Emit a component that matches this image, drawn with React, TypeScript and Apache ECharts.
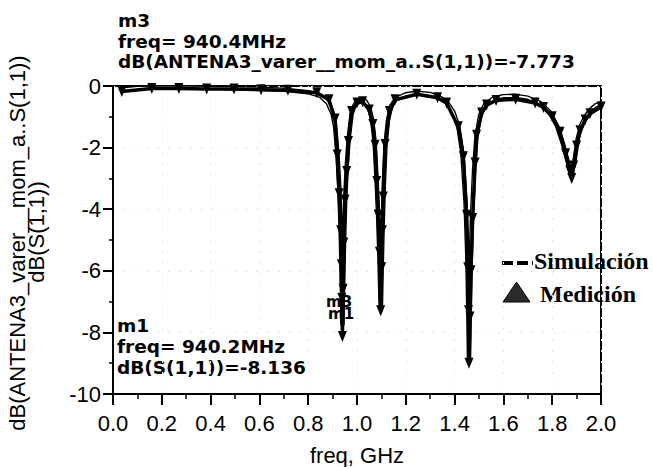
import React, { useEffect, useRef } from "react";
import * as echarts from "echarts";

const xTicks = [0, 2, 0.2];
const yTicks = [-10, 0, 2];

const simulacion: number[][] = [
  [0.03, -0.12], [0.1, -0.06], [0.2, -0.05], [0.3, -0.05], [0.4, -0.06], [0.5, -0.07],
  [0.6, -0.09], [0.7, -0.12], [0.8, -0.2], [0.85, -0.32], [0.88, -0.55], [0.9, -0.9],
  [0.91, -1.3], [0.92, -2.2], [0.928, -3.4], [0.934, -5.0], [0.938, -6.6], [0.9404, -7.773],
  [0.943, -6.6], [0.947, -5.0], [0.952, -3.6], [0.958, -2.6], [0.966, -1.7], [0.978, -0.9],
  [0.99, -0.62], [1.005, -0.48], [1.02, -0.45], [1.035, -0.5], [1.05, -0.7], [1.062, -1.1],
  [1.072, -1.8], [1.08, -3.0], [1.087, -4.3], [1.092, -5.6], [1.096, -6.9], [1.098, -7.2],
  [1.101, -6.0], [1.105, -4.6], [1.11, -3.2], [1.117, -1.9], [1.127, -1.1], [1.14, -0.65],
  [1.16, -0.42], [1.2, -0.27], [1.245, -0.22], [1.3, -0.26], [1.34, -0.38], [1.37, -0.55],
  [1.395, -0.85], [1.415, -1.3], [1.432, -2.2], [1.445, -3.8], [1.452, -5.5], [1.456, -7.2],
  [1.459, -8.9], [1.462, -7.4], [1.466, -5.7], [1.472, -4.1], [1.48, -2.7], [1.49, -1.6],
  [1.505, -0.95], [1.525, -0.6], [1.56, -0.4], [1.6, -0.33], [1.65, -0.32], [1.7, -0.38],
  [1.75, -0.55], [1.79, -0.85], [1.82, -1.3], [1.845, -1.9], [1.865, -2.5], [1.878, -2.9],
  [1.89, -2.5], [1.905, -1.7], [1.92, -1.25], [1.94, -0.95], [1.96, -0.75], [1.98, -0.62],
  [2.0, -0.55],
];

const medicion: number[][] = [
  [0.036, -0.18], [0.159, -0.08], [0.27, -0.08], [0.384, -0.1], [0.496, -0.1], [0.607, -0.12],
  [0.717, -0.14], [0.835, -0.22], [0.885, -0.45], [0.91, -1.07], [0.919, -2.24], [0.927, -3.5],
  [0.933, -4.7], [0.936, -5.8], [0.938, -6.9], [0.9402, -8.136], [0.943, -6.6], [0.946, -5.1],
  [0.951, -3.7], [0.958, -2.78], [0.965, -1.8], [0.978, -0.83], [1.0, -0.55], [1.023, -0.51],
  [1.05, -0.78], [1.065, -1.25], [1.074, -1.92], [1.081, -3.1], [1.087, -4.19], [1.092, -5.4],
  [1.097, -7.3], [1.101, -5.9], [1.104, -4.7], [1.108, -3.6], [1.115, -1.9], [1.133, -0.83],
  [1.156, -0.45], [1.245, -0.27], [1.33, -0.38], [1.367, -0.55], [1.415, -1.32], [1.436, -2.3],
  [1.449, -4.2], [1.454, -5.9], [1.457, -7.3], [1.459, -9.0], [1.463, -7.5], [1.467, -6.0],
  [1.474, -4.3], [1.484, -2.5], [1.49, -1.6], [1.511, -0.88], [1.531, -0.62], [1.57, -0.47],
  [1.65, -0.43], [1.73, -0.55], [1.764, -0.7], [1.8, -1.0], [1.832, -1.5], [1.855, -2.2],
  [1.872, -2.75], [1.88, -3.0], [1.888, -2.6], [1.9, -1.95], [1.914, -1.45], [1.935, -1.1],
  [1.955, -0.9], [2.0, -0.68],
];

const markerM3 = ["m3", "freq= 940.4MHz", "dB(ANTENA3_varer__mom_a..S(1,1))=-7.773"];
const markerM1 = ["m1", "freq= 940.2MHz", "dB(S(1,1))=-8.136"];
const yNameLines = ["dB(ANTENA3_varer__mom_a..S(1,1))", "dB(S(1,1))"];
const xName = "freq, GHz";
const legendNames = ["Simulación", "Medición"];

export default function App() {
  const ref = useRef<HTMLDivElement>(null);
  useEffect(() => {
    if (!ref.current) return;
    const chart = echarts.init(ref.current, null, { renderer: "svg" });
    const boldFont = "DejaVu Sans";
    const txt = (x: number, y: number, s: string, size: number, family: string, weight: string, align = "left") => ({
      type: "text",
      x,
      y,
      style: { text: s, fill: "#000", font: `${weight} ${size}px "${family}"`, align, verticalAlign: "middle" },
    });
    chart.setOption({
      animation: false,
      backgroundColor: "#fff",
      grid: {
        left: 113, right: 52, top: 86, bottom: 73,
        containLabel: false, outerBoundsMode: "none",
        show: true, borderColor: "#000", borderWidth: 2, backgroundColor: "transparent",
      },
      xAxis: {
        type: "value",
        min: xTicks[0],
        max: xTicks[1],
        interval: xTicks[2],
        axisLine: { show: true, onZero: false, lineStyle: { color: "#000", width: 2 } },
        axisTick: { show: true, inside: false, length: 11, lineStyle: { color: "#000", width: 2 } },
        minorTick: { show: true, splitNumber: 2, length: 5, lineStyle: { color: "#000", width: 1.5 } },
        axisLabel: { color: "#000", fontSize: 22, fontFamily: "Liberation Sans", margin: 18, formatter: (v: number) => v.toFixed(1) },
        splitLine: { show: true, lineStyle: { color: "#e4e4e4", type: [2, 9], width: 1 } },
        name: xName,
        nameLocation: "middle",
        nameGap: 50,
        nameTextStyle: { color: "#000", fontSize: 22, fontFamily: "Liberation Sans" },
      },
      yAxis: {
        type: "value",
        min: yTicks[0],
        max: yTicks[1],
        interval: yTicks[2],
        axisLine: { show: true, onZero: false, lineStyle: { color: "#000", width: 2 } },
        axisTick: { show: true, inside: false, length: 10, lineStyle: { color: "#000", width: 2 } },
        minorTick: { show: true, splitNumber: 2, length: 4, lineStyle: { color: "#000", width: 1.5 } },
        axisLabel: { color: "#000", fontSize: 22, fontFamily: "Liberation Sans", margin: 12 },
        splitLine: { show: true, lineStyle: { color: "#e4e4e4", type: [2, 9], width: 1 } },
      },
      series: [
        {
          name: "Simulación",
          type: "line",
          data: simulacion,
          showSymbol: false,
          symbol: "none",
          lineStyle: { color: "#000", width: 4.5 },
          z: 2,
        },
        {
          name: "Simulación-core",
          type: "line",
          data: simulacion,
          showSymbol: false,
          symbol: "none",
          lineStyle: { color: "#fff", width: 1.8 },
          z: 3,
        },
        {
          name: "Medición",
          type: "line",
          data: medicion,
          symbol: "triangle",
          symbolRotate: 180,
          symbolSize: [9, 11],
          showSymbol: true,
          showAllSymbol: true,
          itemStyle: { color: "#000" },
          lineStyle: { color: "#000", width: 3.5 },
          z: 4,
        },
      ],
      graphic: [
        txt(118, 20, markerM3[0], 18.5, boldFont, "bold"),
        txt(118, 41, markerM3[1], 18.5, boldFont, "bold"),
        txt(118, 61, markerM3[2], 18.5, boldFont, "bold"),
        txt(117, 325, markerM1[0], 18.5, boldFont, "bold"),
        txt(117, 346, markerM1[1], 18.5, boldFont, "bold"),
        txt(117, 367, markerM1[2], 18.5, boldFont, "bold"),
        txt(326, 302, "m3", 15, boldFont, "bold"),
        txt(328, 314, "m1", 15, boldFont, "bold"),
        {
          type: "text",
          x: 17,
          y: 243,
          rotation: Math.PI / 2,
          style: { text: yNameLines[0], fill: "#000", font: '22px "Liberation Sans"', align: "center", verticalAlign: "middle" },
        },
        {
          type: "text",
          x: 36,
          y: 232,
          rotation: Math.PI / 2,
          style: { text: yNameLines[1], fill: "#000", font: '22px "Liberation Sans"', align: "center", verticalAlign: "middle" },
        },
        {
          type: "line",
          shape: { x1: 502, y1: 263, x2: 533, y2: 263 },
          style: { stroke: "#000", lineWidth: 4, lineDash: [11, 4] },
        },
        txt(534, 261, legendNames[0], 24, "Liberation Serif", "bold"),
        {
          type: "polygon",
          shape: { points: [[503, 302], [516.5, 282], [530, 302]] },
          style: { fill: "#2b2b2b", stroke: "#000", lineWidth: 1 },
        },
        txt(540, 294, legendNames[1], 24, "Liberation Serif", "bold"),
      ],
    });
    return () => chart.dispose();
  }, []);
  return <div ref={ref} style={{ position: "fixed", left: 0, top: 0, width: 653, height: 467 }} />;
}
